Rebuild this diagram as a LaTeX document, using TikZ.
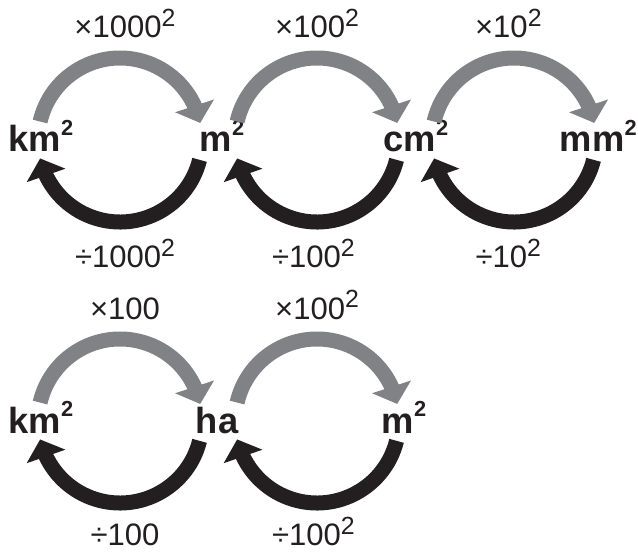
\documentclass[tikz,border=0pt]{standalone}
\usepackage{fontspec}
\setmainfont{Liberation Sans}
\usetikzlibrary{arrows.meta,bending}
\definecolor{mulgray}{RGB}{128,130,133}
\definecolor{divblack}{RGB}{35,31,32}
\newcommand{\unitsq}{\raisebox{0.46em}{\scalebox{0.6}{2}}}
\newcommand{\factsq}{\raisebox{0.36em}{\scalebox{0.8}{2}}}

\begin{document}
\begin{tikzpicture}[
  unit/.style={font=\fontsize{31}{33}\selectfont\bfseries, text=divblack,
               inner sep=0pt, anchor=base},
  factor/.style={font=\fontsize{26.5}{28}\selectfont, text=divblack,
                 inner sep=0pt, anchor=base},
  uparc/.style={draw=mulgray, line width=0.45cm,
                -{Triangle[width=1.2cm, length=0.54cm]}},
  downarc/.style={draw=divblack, line width=0.45cm,
                  -{Triangle[width=1.2cm, length=0.54cm]}}
]
\useasboundingbox (0,0) rectangle (19.14,16.59);

% Mittelpunkte der Kreise
\coordinate (a1) at (3.60,12.39);
\coordinate (a2) at (9.51,12.39);
\coordinate (a3) at (15.42,12.39);
\coordinate (b1) at (3.60,3.96);
\coordinate (b2) at (9.51,3.96);

% Erste Reihe: Einheiten
\node[unit] (km) at (1.23,12.03) {km\unitsq};
\node[unit] (m) at (6.66,12.03) {m\unitsq};
\node[unit] (cm) at (12.48,12.03) {cm\unitsq};
\node[unit] (mm) at (17.95,12.03) {mm\unitsq};

\draw[uparc] ([shift={(167:2.46)}]a1) arc[start angle=167, end angle=12, radius=2.46];
\draw[downarc] ([shift={(-14:2.46)}]a1) arc[start angle=-14, end angle=-167, radius=2.46];
\draw[uparc] ([shift={(167:2.46)}]a2) arc[start angle=167, end angle=12, radius=2.46];
\draw[downarc] ([shift={(-14:2.46)}]a2) arc[start angle=-14, end angle=-167, radius=2.46];
\draw[uparc] ([shift={(167:2.46)}]a3) arc[start angle=167, end angle=12, radius=2.46];
\draw[downarc] ([shift={(-14:2.46)}]a3) arc[start angle=-14, end angle=-167, radius=2.46];

\node[factor] (mul1) at (3.75,15.45) {×1000\factsq};
\node[factor] (mul2) at (9.51,15.45) {×100\factsq};
\node[factor] (mul3) at (15.25,15.45) {×10\factsq};
\node[factor] (div1) at (3.75,8.55) {÷1000\factsq};
\node[factor] (div2) at (9.40,8.55) {÷100\factsq};
\node[factor] (div3) at (15.25,8.55) {÷10\factsq};

% Zweite Reihe: Hektar
\node[unit] (km2) at (1.23,3.60) {km\unitsq};
\node[unit] (ha) at (6.51,3.60) {ha};
\node[unit] (m2) at (12.12,3.60) {m\unitsq};

\draw[uparc] ([shift={(167:2.46)}]b1) arc[start angle=167, end angle=12, radius=2.46];
\draw[downarc] ([shift={(-14:2.46)}]b1) arc[start angle=-14, end angle=-167, radius=2.46];
\draw[uparc] ([shift={(167:2.46)}]b2) arc[start angle=167, end angle=12, radius=2.46];
\draw[downarc] ([shift={(-14:2.46)}]b2) arc[start angle=-14, end angle=-167, radius=2.46];

\node[factor] (mul4) at (3.75,7.02) {×100};
\node[factor] (mul5) at (9.51,7.02) {×100\factsq};
\node[factor] (div4) at (3.75,0.22) {÷100};
\node[factor] (div5) at (9.40,0.22) {÷100\factsq};

\end{tikzpicture}
\end{document}
